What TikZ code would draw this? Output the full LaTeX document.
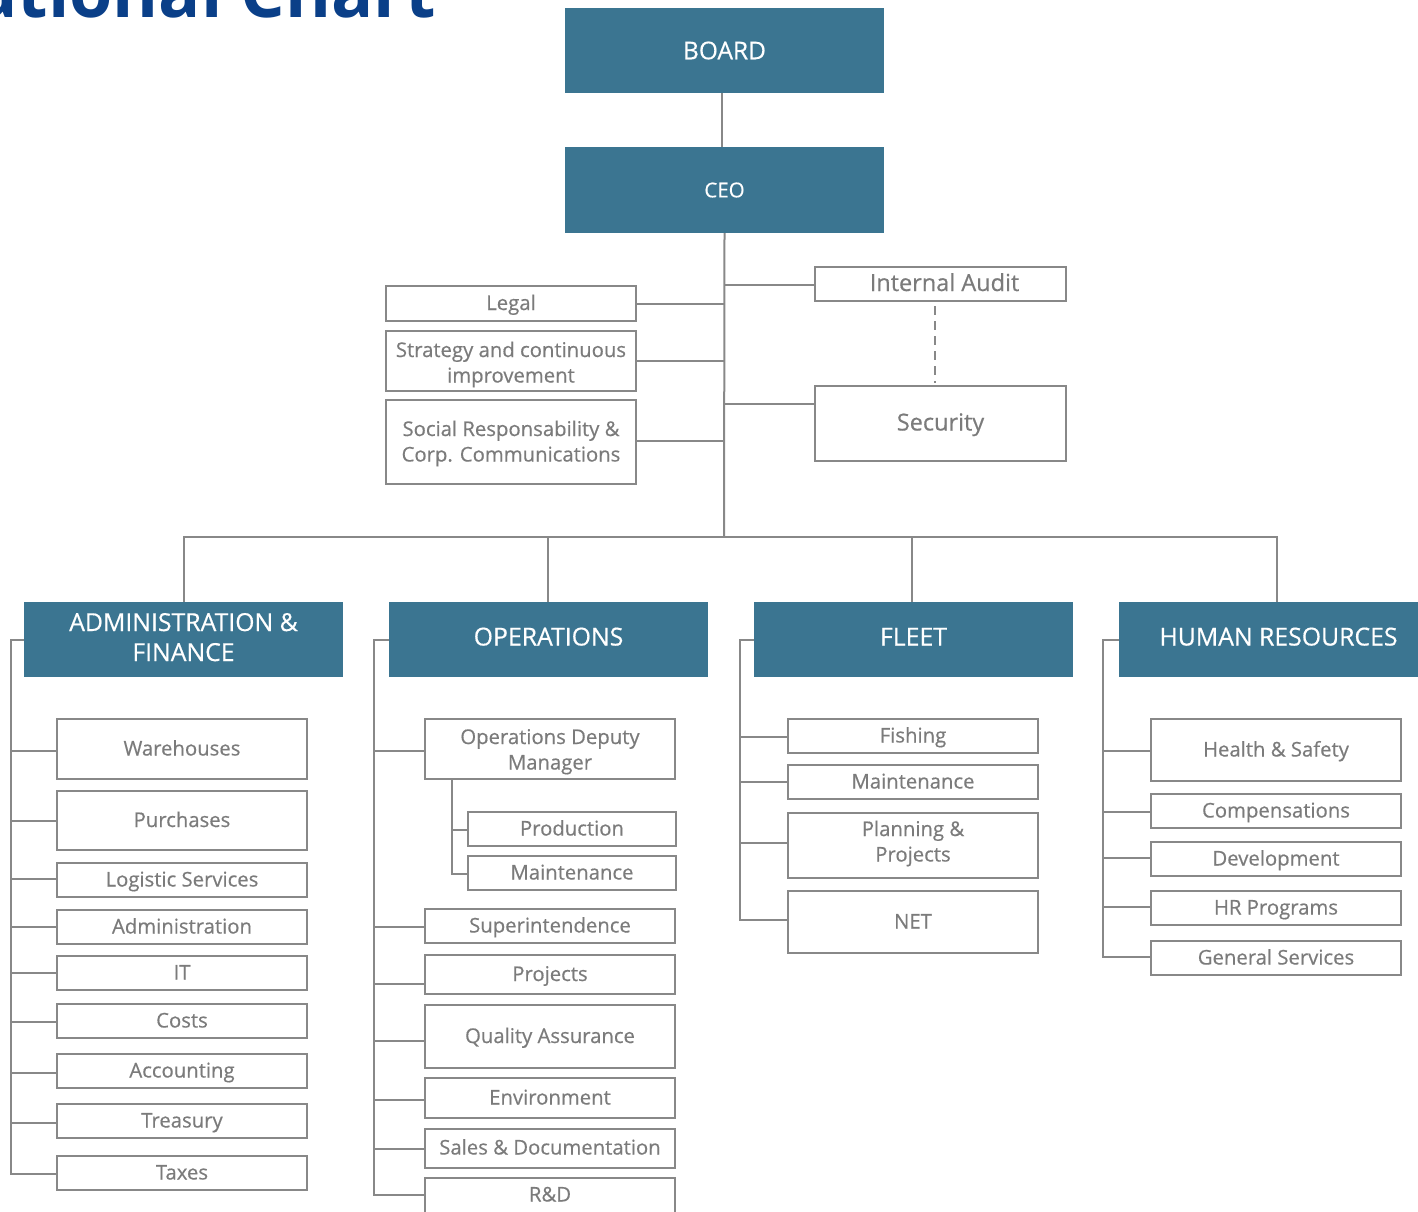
\documentclass[tikz,border=0pt]{standalone}
\usepackage{fontspec}
\setmainfont{Open Sans}[FakeBold=0.45]
\newfontfamily\titlef{Open Sans}
\definecolor{headblue}{HTML}{3B7591}
\definecolor{lngray}{HTML}{888888}
\definecolor{txtgray}{HTML}{7B7B7B}
\definecolor{titleblue}{HTML}{0A3F88}
\begin{document}
\begin{tikzpicture}[x=1pt,y=-1pt,
  ln/.style={draw=lngray,line width=2pt},
  head/.style={fill=headblue,draw=none,text=white,align=center,inner sep=0pt,
    font=\fontsize{24.8}{30}\selectfont,text height=16.5pt,text depth=4.5pt},
  unit/.style={draw=lngray,line width=2pt,fill=white,text=txtgray,align=center,inner sep=0pt,
    font=\fontsize{20.3}{25.5}\selectfont,text height=16pt,text depth=3pt},
  bigunit/.style={unit,font=\fontsize{23.5}{26}\selectfont,text height=18pt,text depth=4pt},
  two/.style={text height=#1,text depth=5pt},
  wd/.style={minimum width=#1},
  ht/.style={minimum height=#1}]
\useasboundingbox (0,0) rectangle (1418,1211);
\clip (0,0) rectangle (1418,1211);
% title (cut off at top)
\node[anchor=base east,inner sep=0pt,text=titleblue,font=\titlef\fontsize{70}{70}\bfseries\selectfont] (title) at (436,17) {Organizational Chart};
% top
\node[head,wd=319,ht=85,font=\fontsize{24.5}{25}\selectfont,text height=,text depth=] (board) at (724.5,50.5) {BOARD};
\node[head,wd=319,ht=86,font=\fontsize{20.5}{25}\selectfont,text height=,text depth=] (ceo) at (724.5,190) {CEO};
\draw[ln] (board.south -| 722,0) -- (ceo.north -| 722,0);
\coordinate (bus) at (724,537);
\draw[ln] (ceo.south) -- (bus);
% staff
\node[unit,wd=250,ht=35] (legal) at (511,303.5) {Legal};
\node[unit,wd=250,ht=60,two=48pt] (strat) at (511,361) {Strategy and continuous\\improvement};
\node[unit,wd=250,ht=84,two=44pt] (social) at (511,442) {Social Responsability \&\\Corp. Communications};
\node[bigunit,wd=251,ht=34] (audit) at (940.5,284) {\hspace*{8pt}Internal Audit};
\node[bigunit,wd=251,ht=75] (secur) at (940.5,423.5) {Security};
\draw[ln] (legal.east) -- (724,303.5);
\draw[ln] (strat.east) -- (724,361);
\draw[ln] (social.east |- 0,441) -- (724,441);
\draw[ln] (724,285) -- (audit.west |- 0,285);
\draw[ln] (724,404) -- (secur.west |- 0,404);
\draw[lngray,line width=2pt,dash pattern=on 9pt off 6pt] (935,306) -- (935,383);
% divisions
\node[head,wd=319,ht=75,two=48pt] (adm) at (183.5,639.5) {ADMINISTRATION \&\\FINANCE};
\node[head,wd=319,ht=75] (ops) at (548.5,639.5) {OPERATIONS};
\node[head,wd=319,ht=75] (flt) at (913.5,639.5) {FLEET};
\node[head,wd=319,ht=75] (hr) at (1278.5,639.5) {HUMAN RESOURCES};
\draw[ln] (adm.north -| 184,0) -- (184,537) -- (1277,537) -- (hr.north -| 1277,0);
\draw[ln] (548,537) -- (ops.north -| 548,0);
\draw[ln] (912,537) -- (flt.north -| 912,0);
% admin children
\node[unit,wd=250,ht=60] (a1) at (182,749) {Warehouses};
\node[unit,wd=250,ht=59] (a2) at (182,820.5) {Purchases};
\node[unit,wd=250,ht=34] (a3) at (182,880) {Logistic Services};
\node[unit,wd=250,ht=34] (a4) at (182,927) {Administration};
\node[unit,wd=250,ht=34] (a5) at (182,973) {IT};
\node[unit,wd=250,ht=34] (a6) at (182,1021) {Costs};
\node[unit,wd=250,ht=34] (a7) at (182,1071) {Accounting};
\node[unit,wd=250,ht=34] (a8) at (182,1121) {Treasury};
\node[unit,wd=250,ht=34] (a9) at (182,1173) {Taxes};
\draw[ln] (adm.west) -- (11,639.5) -- (11,1174) -- (a9.west |- 0,1174);
\foreach \n/\y in {a1/751,a2/821,a3/879,a4/927,a5/973,a6/1022,a7/1073,a8/1123}
  \draw[ln] (11,\y) -- (\n.west |- 0,\y);
% operations children
\node[unit,wd=250,ht=60,two=46pt] (o1) at (550,749) {Operations Deputy\\Manager};
\node[unit,wd=208,ht=34] (o1a) at (572,829) {Production};
\node[unit,wd=208,ht=34] (o1b) at (572,873) {Maintenance};
\node[unit,wd=250,ht=34] (o2) at (550,926) {Superintendence};
\node[unit,wd=250,ht=39] (o3) at (550,974.5) {Projects};
\node[unit,wd=250,ht=63] (o4) at (550,1036.5) {Quality Assurance};
\node[unit,wd=250,ht=40] (o5) at (550,1098) {Environment};
\node[unit,wd=250,ht=39] (o6) at (550,1148) {Sales \& Documentation};
\node[unit,wd=250,ht=44] (o7) at (550,1200) {};
\node[text=txtgray,font=\fontsize{20.3}{25}\selectfont,inner sep=0pt,text height=16pt,text depth=3pt] (o7t) at (550,1195) {R\&D};
\draw[ln] (ops.west) -- (374,639.5) -- (374,1195) -- (o7.west |- 0,1195);
\foreach \n/\y in {o1/751,o2/927,o3/984,o4/1041,o5/1100,o6/1149}
  \draw[ln] (374,\y) -- (\n.west |- 0,\y);
\draw[ln] (o1.south -| 452,0) -- (452,874) -- (o1b.west |- 0,874);
\draw[ln] (452,830) -- (o1a.west |- 0,830);
% fleet children
\node[unit,wd=250,ht=34] (f1) at (913,736) {Fishing};
\node[unit,wd=250,ht=34] (f2) at (913,782) {Maintenance};
\node[unit,wd=250,ht=65,two=37pt] (f3) at (913,845.5) {Planning \&\\Projects};
\node[unit,wd=250,ht=62] (f4) at (913,922) {NET};
\draw[ln] (flt.west) -- (740,639.5) -- (740,920) -- (f4.west |- 0,920);
\foreach \n/\y in {f1/737,f2/782,f3/843}
  \draw[ln] (740,\y) -- (\n.west |- 0,\y);
% hr children
\node[unit,wd=250,ht=62] (h1) at (1276,750) {Health \& Safety};
\node[unit,wd=250,ht=34] (h2) at (1276,811) {Compensations};
\node[unit,wd=250,ht=34] (h3) at (1276,859) {Development};
\node[unit,wd=250,ht=34] (h4) at (1276,908) {HR Programs};
\node[unit,wd=250,ht=34] (h5) at (1276,958) {General Services};
\draw[ln] (hr.west) -- (1103,639.5) -- (1103,957) -- (h5.west |- 0,957);
\foreach \n/\y in {h1/751,h2/812,h3/858,h4/907}
  \draw[ln] (1103,\y) -- (\n.west |- 0,\y);
\end{tikzpicture}
\end{document}
